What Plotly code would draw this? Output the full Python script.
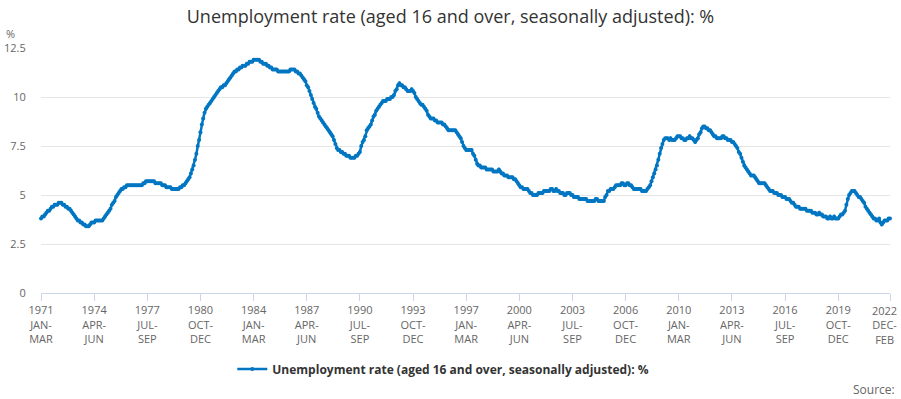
import plotly.graph_objects as go

# ---- data: rolling 3-month periods, Jan-Mar 1971 .. Dec-Feb 2022 ----
years = list(range(1971, 2023))
periods = ["JAN-MAR", "FEB-APR", "MAR-MAY", "APR-JUN", "MAY-JUL", "JUN-AUG",
           "JUL-SEP", "AUG-OCT", "SEP-NOV", "OCT-DEC", "NOV-JAN", "DEC-FEB"]

y1971 = [3.8, 3.9, 3.9, 4.0, 4.1, 4.2, 4.2, 4.3, 4.4, 4.4, 4.5, 4.5]
y1972 = [4.5, 4.6, 4.6, 4.6, 4.5, 4.5, 4.4, 4.4, 4.3, 4.3, 4.2, 4.1]
y1973 = [4.0, 3.9, 3.8, 3.7, 3.7, 3.6, 3.6, 3.5, 3.5, 3.4, 3.4, 3.4]
y1974 = [3.5, 3.6, 3.6, 3.6, 3.7, 3.7, 3.7, 3.7, 3.7, 3.7, 3.8, 3.9]
y1975 = [4.0, 4.1, 4.2, 4.3, 4.5, 4.6, 4.7, 4.9, 5.0, 5.1, 5.2, 5.3]
y1976 = [5.3, 5.4, 5.4, 5.5, 5.5, 5.5, 5.5, 5.5, 5.5, 5.5, 5.5, 5.5]
y1977 = [5.5, 5.5, 5.5, 5.6, 5.6, 5.7, 5.7, 5.7, 5.7, 5.7, 5.7, 5.7]
y1978 = [5.6, 5.6, 5.6, 5.6, 5.6, 5.5, 5.5, 5.5, 5.4, 5.4, 5.4, 5.4]
y1979 = [5.3, 5.3, 5.3, 5.3, 5.3, 5.3, 5.4, 5.4, 5.5, 5.5, 5.6, 5.7]
y1980 = [5.8, 5.9, 6.1, 6.3, 6.5, 6.8, 7.1, 7.5, 7.8, 8.2, 8.6, 8.9]
y1981 = [9.2, 9.4, 9.5, 9.6, 9.7, 9.8, 9.9, 10.0, 10.1, 10.2, 10.3, 10.4]
y1982 = [10.5, 10.5, 10.6, 10.6, 10.7, 10.8, 10.9, 11.0, 11.1, 11.2, 11.3, 11.3]
y1983 = [11.4, 11.4, 11.5, 11.5, 11.6, 11.6, 11.6, 11.7, 11.7, 11.8, 11.8, 11.8]
y1984 = [11.9, 11.9, 11.9, 11.9, 11.9, 11.8, 11.8, 11.7, 11.7, 11.7, 11.6, 11.6]
y1985 = [11.5, 11.5, 11.4, 11.4, 11.4, 11.4, 11.3, 11.3, 11.3, 11.3, 11.3, 11.3]
y1986 = [11.3, 11.3, 11.3, 11.4, 11.4, 11.4, 11.4, 11.3, 11.3, 11.2, 11.2, 11.1]
y1987 = [11.0, 10.9, 10.8, 10.6, 10.5, 10.3, 10.1, 9.9, 9.7, 9.5, 9.4, 9.2]
y1988 = [9.0, 8.9, 8.8, 8.7, 8.6, 8.5, 8.4, 8.3, 8.2, 8.1, 8.0, 7.8]
y1989 = [7.6, 7.4, 7.3, 7.3, 7.2, 7.2, 7.1, 7.1, 7.0, 7.0, 7.0, 6.9]
y1990 = [6.9, 6.9, 6.9, 7.0, 7.0, 7.1, 7.2, 7.5, 7.7, 7.8, 8.0, 8.3]
y1991 = [8.4, 8.5, 8.6, 8.8, 9.0, 9.1, 9.3, 9.4, 9.5, 9.6, 9.7, 9.8]
y1992 = [9.8, 9.8, 9.9, 9.9, 9.9, 10.0, 10.0, 10.1, 10.3, 10.4, 10.6, 10.7]
y1993 = [10.6, 10.6, 10.5, 10.5, 10.4, 10.3, 10.3, 10.3, 10.4, 10.3, 10.2, 10.0]
y1994 = [9.9, 9.8, 9.7, 9.6, 9.6, 9.5, 9.4, 9.3, 9.1, 9.0, 8.9, 8.9]
y1995 = [8.9, 8.8, 8.8, 8.7, 8.7, 8.7, 8.7, 8.6, 8.6, 8.5, 8.4, 8.3]
y1996 = [8.3, 8.3, 8.3, 8.3, 8.3, 8.2, 8.1, 8.0, 7.9, 7.7, 7.5, 7.4]
y1997 = [7.3, 7.3, 7.3, 7.3, 7.3, 7.1, 7.0, 6.8, 6.6, 6.5, 6.5, 6.4]
y1998 = [6.4, 6.4, 6.4, 6.3, 6.3, 6.3, 6.3, 6.3, 6.2, 6.2, 6.2, 6.2]
y1999 = [6.3, 6.2, 6.1, 6.1, 6.0, 6.0, 6.0, 5.9, 5.9, 5.9, 5.9, 5.8]
y2000 = [5.8, 5.7, 5.6, 5.5, 5.4, 5.4, 5.3, 5.3, 5.3, 5.3, 5.2, 5.1]
y2001 = [5.1, 5.0, 5.0, 5.0, 5.0, 5.1, 5.1, 5.1, 5.1, 5.2, 5.2, 5.2]
y2002 = [5.2, 5.2, 5.3, 5.3, 5.2, 5.2, 5.3, 5.2, 5.2, 5.1, 5.1, 5.1]
y2003 = [5.0, 5.0, 5.1, 5.1, 5.1, 5.0, 5.0, 4.9, 4.9, 4.9, 4.9, 4.8]
y2004 = [4.8, 4.8, 4.8, 4.8, 4.8, 4.7, 4.7, 4.7, 4.7, 4.7, 4.7, 4.8]
y2005 = [4.8, 4.7, 4.7, 4.7, 4.7, 4.7, 4.9, 5.0, 5.2, 5.2, 5.3, 5.3]
y2006 = [5.3, 5.4, 5.5, 5.5, 5.5, 5.5, 5.6, 5.6, 5.5, 5.5, 5.6, 5.6]
y2007 = [5.5, 5.5, 5.4, 5.3, 5.3, 5.3, 5.3, 5.3, 5.3, 5.2, 5.2, 5.2]
y2008 = [5.2, 5.3, 5.4, 5.5, 5.7, 5.9, 6.1, 6.3, 6.5, 6.8, 7.1, 7.4]
y2009 = [7.6, 7.8, 7.9, 7.9, 7.9, 7.8, 7.9, 7.8, 7.8, 7.8, 7.9, 8.0]
y2010 = [8.0, 8.0, 7.9, 7.9, 7.8, 7.8, 7.9, 7.9, 8.0, 7.9, 7.9, 7.8]
y2011 = [7.7, 7.8, 7.9, 8.1, 8.2, 8.4, 8.5, 8.5, 8.4, 8.4, 8.3, 8.3]
y2012 = [8.2, 8.1, 8.0, 8.0, 7.9, 7.9, 7.9, 7.9, 8.0, 8.0, 7.9, 7.9]
y2013 = [7.8, 7.8, 7.8, 7.7, 7.7, 7.6, 7.5, 7.4, 7.2, 7.1, 6.9, 6.7]
y2014 = [6.5, 6.4, 6.3, 6.2, 6.1, 6.0, 6.0, 6.0, 5.9, 5.8, 5.7, 5.6]
y2015 = [5.6, 5.6, 5.6, 5.6, 5.5, 5.4, 5.3, 5.2, 5.2, 5.2, 5.1, 5.1]
y2016 = [5.1, 5.0, 5.0, 5.0, 4.9, 4.9, 4.9, 4.8, 4.8, 4.8, 4.7, 4.6]
y2017 = [4.6, 4.5, 4.4, 4.4, 4.4, 4.3, 4.3, 4.3, 4.3, 4.3, 4.2, 4.2]
y2018 = [4.2, 4.2, 4.1, 4.1, 4.1, 4.0, 4.0, 4.1, 4.0, 4.0, 3.9, 3.9]
y2019 = [3.9, 3.8, 3.8, 3.9, 3.8, 3.8, 3.9, 3.8, 3.8, 3.8, 3.9, 4.0]
y2020 = [4.0, 4.1, 4.2, 4.5, 4.8, 5.0, 5.1, 5.2, 5.2, 5.2, 5.1, 5.0]
y2021 = [4.9, 4.9, 4.8, 4.7, 4.6, 4.4, 4.3, 4.2, 4.1, 4.0, 3.9, 3.8]
y2022 = [3.8, 3.7, 3.7, 3.8, 3.6, 3.5, 3.6, 3.7, 3.7, 3.7, 3.8, 3.8]

yearly = [y1971, y1972, y1973, y1974, y1975, y1976, y1977, y1978, y1979, y1980,
          y1981, y1982, y1983, y1984, y1985, y1986, y1987, y1988, y1989, y1990,
          y1991, y1992, y1993, y1994, y1995, y1996, y1997, y1998, y1999, y2000,
          y2001, y2002, y2003, y2004, y2005, y2006, y2007, y2008, y2009, y2010,
          y2011, y2012, y2013, y2014, y2015, y2016, y2017, y2018, y2019, y2020,
          y2021, y2022]

categories = [f"{yr} {p}" for yr in years for p in periods]
values = [v for yv in yearly for v in yv]

series_name = "Unemployment rate (aged 16 and over, seasonally adjusted): %"
y_ticks = [0, 2.5, 5, 7.5, 10, 12.5]
y_ticktext = ["0", "2.5", "5", "7.5", "10", "12.5"]

tick_idx = list(range(0, len(categories), 39))
if tick_idx[-1] != len(categories) - 1:
    tick_idx.append(len(categories) - 1)
x_tickvals = [categories[i] for i in tick_idx]


def fmt_tick(c):
    return c.replace(" ", "<br>").replace("-", "-<br>")


# the final label is kept inside the chart edge (as in the original), so it is
# drawn as an annotation anchored at its tick instead of a centred tick label
x_ticktext = [fmt_tick(c) for c in x_tickvals[:-1]] + [""]
last_label = fmt_tick(x_tickvals[-1])

FONT = "Open Sans"
BLUE = "#0076c2"

fig = go.Figure()
fig.add_trace(go.Scatter(
    x=categories, y=values, name=series_name,
    mode="lines+markers",
    line=dict(color=BLUE, width=2.5),
    marker=dict(color=BLUE, size=4),
    cliponaxis=False,
))

fig.update_layout(
    width=901, height=399,
    margin=dict(l=41, r=11, t=48, b=106, autoexpand=False),
    paper_bgcolor="white", plot_bgcolor="white",
    font=dict(family=FONT, size=11, color="#666666"),
    title=dict(text=series_name, x=0.5, xref="container", xanchor="center",
               y=1 - 17 / 399, yref="container", yanchor="middle",
               font=dict(family=FONT, size=18, color="#333333")),
    showlegend=True,
    legend=dict(orientation="h", x=0.492, xref="container", xanchor="center",
                y=-0.31, yanchor="middle",
                font=dict(family=FONT, size=12, color="#333333", weight="bold"),
                itemwidth=30),
    xaxis=dict(type="category", range=[0, len(categories) - 1],
               tickmode="array", tickvals=x_tickvals, ticktext=x_ticktext,
               ticks="outside", ticklen=7, tickcolor="#ccd6eb", tickwidth=1,
               showline=True, linecolor="#ccd6eb", linewidth=1,
               showgrid=False, tickangle=0, automargin=False,
               tickfont=dict(family=FONT, size=11, color="#666666")),
    yaxis=dict(range=[0, 12.5], tickmode="array", tickvals=y_ticks, ticktext=y_ticktext,
               showgrid=True, gridcolor="#e6e6e6", gridwidth=1,
               zeroline=False, showline=False,
               ticks="outside", ticklen=12, tickcolor="rgba(0,0,0,0)",
               automargin=False,
               tickfont=dict(family=FONT, size=11, color="#666666")),
    annotations=[
        dict(text="%", xref="paper", yref="paper", x=-0.043, y=1.061,
             xanchor="left", yanchor="middle", showarrow=False,
             font=dict(family=FONT, size=11, color="#666666")),
        dict(text="Source:", xref="paper", yref="paper", x=1.008, y=-0.392,
             xanchor="right", yanchor="middle", showarrow=False,
             font=dict(family=FONT, size=12, color="#666666")),
        dict(text=last_label, xref="x", yref="paper", x=x_tickvals[-1], y=0,
             xanchor="right", yanchor="top", xshift=9, yshift=-8,
             align="center", showarrow=False,
             font=dict(family=FONT, size=11, color="#666666")),
    ],
)

fig.write_html("out.html",
               config={"displayModeBar": False},
               post_script="document.body.style.margin='0';document.body.style.overflow='hidden';")
